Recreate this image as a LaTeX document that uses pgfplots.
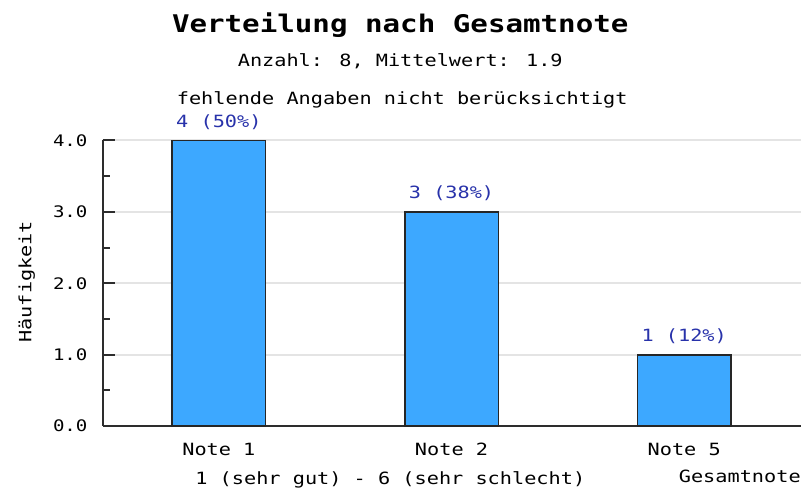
\documentclass[border=0pt]{standalone}
\usepackage{fontspec}
\setmainfont{DejaVu Sans Mono}[FakeStretch=1.2]
\usepackage{pgfplots}
\pgfplotsset{compat=1.18}
\definecolor{barblue}{RGB}{61,168,255}
\definecolor{labblue}{RGB}{40,50,170}
\definecolor{axgray}{RGB}{45,45,45}
\definecolor{gridgray}{RGB}{228,228,228}
\newcommand\bodyfont{\fontsize{17}{20}\selectfont}
\begin{document}
\begin{tikzpicture}
\begin{axis}[
  name=ax, scale only axis, width=701bp, height=287bp,
  xmin=-0.5, xmax=2.5, ymin=0, ymax=4,
  axis x line*=bottom, axis y line*=left,
  axis line style={axgray, line width=2bp},
  ybar, bar width=94bp,
  xtick={0,1,2}, xticklabels={Note 1, Note 2, Note 5},
  major x tick style={draw=none},
  ytick={0,1,2,3,4}, minor ytick={0.5,1.5,2.5,3.5},
  tick align=inside,
  major tick length=12bp, minor tick length=7bp,
  major tick style={axgray, line width=2bp},
  minor tick style={axgray, line width=2bp},
  ymajorgrids, major grid style={gridgray, line width=2bp},
  yticklabel style={font=\fontsize{16}{19}\selectfont, anchor=east, inner sep=0pt, xshift=-15bp,
    /pgf/number format/fixed, /pgf/number format/fixed zerofill, /pgf/number format/precision=1, /pgf/number format/assume math mode=true},
  xticklabel style={font=\bodyfont, anchor=north, inner sep=0pt, yshift=-17bp},
  nodes near coords, point meta=explicit symbolic,
  every node near coord/.append style={labblue, font=\bodyfont, anchor=base, inner sep=0pt, yshift=13bp},
]
\addplot[fill=barblue, draw=black!85, line width=1.6bp] coordinates {
  (0,4) [4 (50\%)]
  (1,3) [3 (38\%)]
  (2,1) [1 (12\%)]
};
\end{axis}
\path ([shift={(-103bp,-67bp)}]ax.south west) rectangle ([shift={(701bp,428bp)}]ax.south west);
\node[font=\fontsize{24.5}{28}\selectfont\bfseries] at ([shift={(299bp,403bp)}]ax.south west) {Verteilung nach Gesamtnote};
\node[font=\bodyfont] at ([shift={(299bp,366bp)}]ax.south west) {Anzahl: 8, Mittelwert: 1.9};
\node[font=\bodyfont] at ([shift={(301bp,328bp)}]ax.south west) {fehlende Angaben nicht berücksichtigt};
\node[font=\bodyfont] at ([shift={(289bp,-54bp)}]ax.south west) {1 (sehr gut) - 6 (sehr schlecht)};
\node[font=\bodyfont] at ([shift={(640bp,-50bp)}]ax.south west) {Gesamtnote};
\node[font=\bodyfont, rotate=90] at ([shift={(-76bp,145bp)}]ax.south west) {Häufigkeit};
\end{tikzpicture}
\end{document}
